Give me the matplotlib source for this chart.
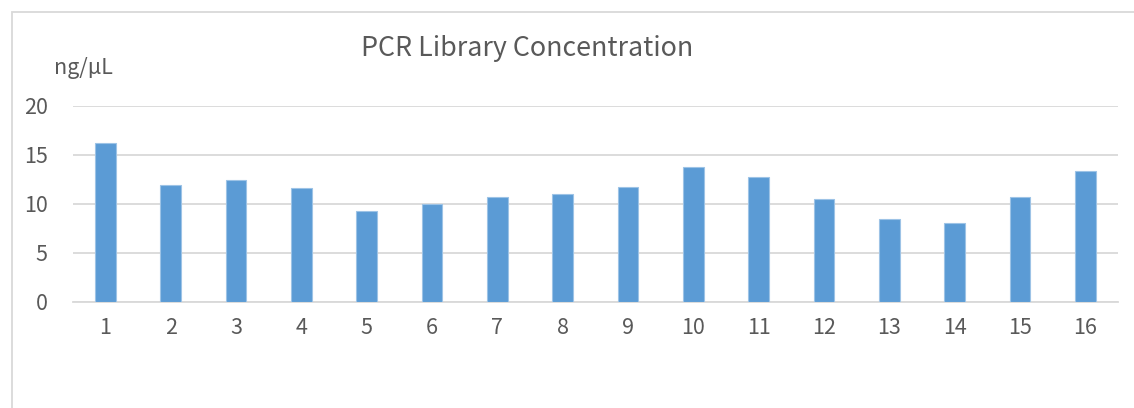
import matplotlib
matplotlib.use("Agg")
import matplotlib.pyplot as plt
from matplotlib.patches import Rectangle

# Concentración de librerías PCR (ng/µL) por muestra
muestras = [str(i) for i in range(1, 17)]
concentracion = [16.2, 11.9, 12.4, 11.6, 9.3, 10.0, 10.7, 11.0,
                 11.7, 13.8, 12.7, 10.5, 8.5, 8.0, 10.7, 13.4]
marcas_y = [0, 5, 10, 15, 20]

gris = "#595959"
plt.rcParams["font.family"] = ["Noto Sans CJK SC", "DejaVu Sans"]
plt.rcParams["font.weight"] = "light"

fig = plt.figure(figsize=(11.34, 4.08), dpi=100)
fig.patches.append(Rectangle((12 / 1134, -0.1), 1.2, (408 - 12) / 408 + 0.1,
                             transform=fig.transFigure, fill=False,
                             edgecolor="#D9D9D9", linewidth=1.3))

ax = fig.add_axes([72.7 / 1134, 1 - 301.7 / 408, (1118 - 72.7) / 1134, 195.7 / 408])
ax.bar(range(len(muestras)), concentracion, width=0.316, color="#5B9BD5",
       edgecolor="#9DC3E6", linewidth=0.8, zorder=3)
ax.set_xlim(-0.5, len(muestras) - 0.5)
ax.set_ylim(0, 20)
ax.set_yticks(marcas_y)
ax.set_xticks(range(len(muestras)))
ax.set_xticklabels(muestras)
ax.grid(axis="y", color="#D9D9D9", linewidth=1.3, zorder=0)
for s in ["top", "right", "left"]:
    ax.spines[s].set_visible(False)
ax.spines["bottom"].set_color("#D9D9D9")
ax.spines["bottom"].set_linewidth(1.3)
ax.tick_params(length=0, colors=gris, labelsize=15.5)
ax.tick_params(axis="y", pad=18)
ax.tick_params(axis="x", pad=11)

fig.text(527 / 1134, 1 - 49 / 408, "PCR Library Concentration", ha="center",
         va="center", fontsize=19.3, color=gris)
fig.text(54 / 1134, 1 - 68 / 408, "ng/μL", ha="left", va="center",
         fontsize=15.5, color=gris)

fig.savefig("out.png", dpi=100)
